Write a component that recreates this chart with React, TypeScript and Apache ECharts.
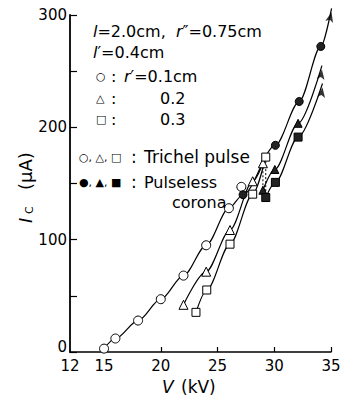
import React, { useEffect, useRef } from "react";
import * as echarts from "echarts";

// Circles r'=0.1cm
const circleOpenV = [15, 16, 18, 20, 22, 24, 26, 27.1];
const circleOpenI = [3, 12, 28, 47, 68, 95, 128, 147];
const circleFilledV = [27.25, 30.1, 32.2, 34.1];
const circleFilledI = [140, 184, 223, 272];
const circleTip = [35.05, 306];

// Triangles r'=0.2cm
const triOpenV = [22, 24, 26.1, 28.1, 29];
const triOpenI = [42, 71.5, 108.6, 152, 168];
const triFilledV = [29, 30.05, 32.1];
const triFilledI = [144, 162.5, 203.6];
const triTip = [34.2, 255];

// Squares r'=0.3cm
const sqOpenV = [23.1, 24.05, 26.1, 28.1, 29.25];
const sqOpenI = [35.3, 55.2, 96, 140.5, 173.5];
const sqFilledV = [29.25, 30.1, 32.1];
const sqFilledI = [137.5, 151, 191.3];
const sqTip = [34.25, 239];

const xLabelValues = [12, 15, 20, 25, 30, 35];
const xTickValues = [15, 20, 25, 30, 35];
const yLabelValues = [0, 100, 200, 300];

const FONT = "DejaVu Sans";

const pts = (xs: number[], ys: number[]) => xs.map((x, i) => [x, ys[i]]);

export default function App() {
  const ref = useRef<HTMLDivElement>(null);
  useEffect(() => {
    document.body.style.margin = "0";
    if (!ref.current) return;
    const chart = echarts.init(ref.current, null, { renderer: "svg" });

    const circleLine = [
      ...pts(circleOpenV.slice(0, 7), circleOpenI.slice(0, 7)),
      ...pts(circleFilledV, circleFilledI),
      circleTip,
    ];
    const triLineA = pts(triOpenV, triOpenI);
    const triLineB = [...pts(triFilledV, triFilledI), triTip];
    const sqLineA = pts(sqOpenV, sqOpenI);
    const sqLineB = [...pts(sqFilledV, sqFilledI), sqTip];
    const triDash = [
      [triOpenV[triOpenV.length - 1], triOpenI[triOpenI.length - 1]],
      [triFilledV[0], triFilledI[0]],
    ];
    const sqDash = [
      [sqOpenV[sqOpenV.length - 1], sqOpenI[sqOpenI.length - 1]],
      [sqFilledV[0], sqFilledI[0]],
    ];

    const lineS = (data: number[][]) => ({
      type: "line",
      data,
      symbol: "none",
      smooth: 0.3,
      smoothMonotone: "x",
      clip: false,
      lineStyle: { color: "#000", width: 1.2 },
      z: 2,
    });
    const dashS = (data: number[][]) => ({
      type: "line",
      data,
      symbol: "none",
      clip: false,
      lineStyle: { color: "#000", width: 1, type: [2, 2] },
      z: 2,
    });
    const scat = (data: number[][], symbol: string, size: number, filled: boolean) => ({
      type: "scatter",
      data,
      symbol,
      symbolSize: size,
      clip: false,
      itemStyle: {
        color: filled ? "#222" : "#fff",
        borderColor: "#000",
        borderWidth: 1,
        opacity: 1,
      },
      z: 4,
    });
    const arrow = (tip: number[], rot: number) => ({
      type: "scatter",
      data: [tip],
      symbol: "arrow",
      symbolSize: [6, 10],
      symbolRotate: rot,
      symbolOffset: [0, "40%"],
      clip: false,
      itemStyle: { color: "#000" },
      z: 4,
    });

    const txt = (x: number, y: number, text: string, fontSize: number) => ({
      type: "text",
      x,
      y,
      style: {
        text,
        fontSize,
        fontFamily: FONT,
        fill: "#000",
        textVerticalAlign: "middle",
        rich: {
          i: { fontStyle: "italic", fontSize, fontFamily: FONT },
        },
      },
      z: 10,
    });

    chart.setOption({
      animation: false,
      textStyle: { fontFamily: FONT },
      grid: { left: 70, right: 13, top: 15, bottom: 49 },
      xAxis: {
        type: "value",
        min: 12,
        max: 35,
        axisLine: { show: true, lineStyle: { color: "#000", width: 1.5 } },
        axisTick: {
          show: true,
          inside: true,
          length: 5,
          customValues: xTickValues,
          lineStyle: { color: "#000", width: 1.2 },
        },
        axisLabel: {
          customValues: xLabelValues,
          color: "#000",
          fontFamily: FONT,
          fontSize: 15,
          margin: 6,
        },
        splitLine: { show: false },
      },
      yAxis: {
        type: "value",
        min: 0,
        max: 300,
        interval: 50,
        axisLine: { show: true, lineStyle: { color: "#000", width: 1.8 } },
        axisTick: {
          show: true,
          inside: true,
          length: 7,
          lineStyle: { color: "#000", width: 1.2 },
        },
        axisLabel: {
          customValues: yLabelValues,
          color: "#000",
          fontFamily: FONT,
          fontSize: 15,
          margin: 3,
          formatter: (v: number) => (v === 0 ? "{z|0}" : String(v)),
          rich: {
            z: { fontFamily: FONT, fontSize: 15, color: "#000", padding: [0, 0, 11, 0] },
          },
        },
        splitLine: { show: false },
      },
      series: [
        lineS(circleLine),
        lineS(triLineA),
        lineS(triLineB),
        lineS(sqLineA),
        lineS(sqLineB),
        dashS(triDash),
        dashS(sqDash),
        scat(pts(circleOpenV, circleOpenI), "circle", 9, false),
        scat(pts(circleFilledV, circleFilledI), "circle", 8, true),
        scat(pts(triOpenV, triOpenI), "triangle", 9, false),
        scat(pts(triFilledV, triFilledI), "triangle", 8, true),
        scat(pts(sqOpenV, sqOpenI), "rect", 8, false),
        scat(pts(sqFilledV, sqFilledI), "rect", 8, true),
        arrow(circleTip, -14),
        arrow(triTip, -8),
        arrow(sqTip, -8),
      ],
      graphic: [
        txt(93, 31, "{i|l}=2.0cm,  {i|r}″=0.75cm", 16),
        txt(93, 52, "{i|l}′=0.4cm", 16),
        txt(96, 76, "○", 11),
        txt(111, 76, ":", 16),
        txt(124, 76, "{i|r}′=0.1cm", 16),
        txt(96, 98, "△", 11),
        txt(111, 98, ":", 16),
        txt(160, 98, "0.2", 16),
        txt(96, 119, "□", 11),
        txt(111, 119, ":", 16),
        txt(160, 119, "0.3", 16),
        txt(79, 157, "○, △, □", 11),
        txt(131, 157, ":", 17),
        txt(144, 157, "Trichel pulse", 17),
        txt(79, 182, "●, ▲, ■", 11),
        txt(131, 182, ":", 17),
        txt(144, 182, "Pulseless", 16),
        txt(172, 202, "corona", 16),
        txt(162, 387, "{i|V}", 17),
        txt(181, 387, "(kV)", 17),
        {
          type: "group",
          x: 25,
          y: 223,
          rotation: Math.PI / 2,
          children: [
            txt(0, 0, "{i|I}", 18),
            txt(9, 4, "C", 11),
            txt(33, 0, "(μA)", 18),
          ],
        },
      ],
    });
    return () => chart.dispose();
  }, []);
  return <div ref={ref} style={{ width: 344, height: 401 }} />;
}
